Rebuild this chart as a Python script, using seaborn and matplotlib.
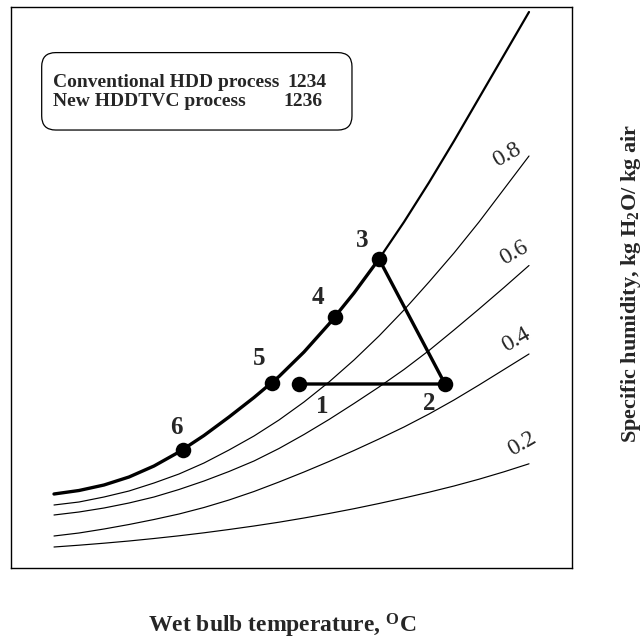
import matplotlib
matplotlib.use("Agg")
import matplotlib.pyplot as plt
import pandas as pd
import seaborn as sns
from matplotlib.patches import FancyBboxPatch

# Wet bulb temperature grid (deg C) shared by all humidity curves
temp = [0, 2.5, 5, 7.5, 10, 12.5, 15, 17.5, 20, 22.5, 25, 27.5,
        30, 32.5, 35, 37.5, 40, 42.5, 45, 47.5]
# Specific humidity (g H2O / kg air) along the saturation line and the
# constant relative-humidity lines
w_sat = [7.4, 7.75, 8.3, 9.1, 10.2, 11.6, 13.25, 15.1, 17.05, 19.15, 21.6, 24.4,
         27.5, 30.9, 34.6, 38.55, 42.7, 47.0, 51.3, 55.6]
w_80 = [6.3, 6.6, 7.1, 7.7, 8.5, 9.4, 10.5, 11.8, 13.2, 14.8, 16.6, 18.6,
        20.8, 23.2, 25.8, 28.6, 31.5, 34.6, 37.9, 41.2]
w_60 = [5.3, 5.6, 6.0, 6.5, 7.1, 7.85, 8.7, 9.65, 10.7, 11.95, 13.35, 14.85,
        16.45, 18.1, 19.85, 21.75, 23.8, 25.9, 28.05, 30.25]
w_40 = [3.2, 3.5, 3.9, 4.35, 4.85, 5.4, 6.05, 6.8, 7.65, 8.6, 9.6, 10.65,
        11.75, 12.9, 14.1, 15.4, 16.8, 18.3, 19.85, 21.4]
w_20 = [2.1, 2.28, 2.48, 2.7, 2.95, 3.22, 3.52, 3.85, 4.2, 4.58, 5.0, 5.45,
        5.93, 6.45, 7.0, 7.58, 8.2, 8.88, 9.62, 10.42]
rh_names = ["0.8", "0.6", "0.4", "0.2"]

# Process states
state_ids = ["1", "2", "3", "4", "5", "6"]
state_temp = [24.5, 39.1, 32.5, 28.1, 21.8, 12.9]
state_w = [18.4, 18.4, 30.9, 25.1, 18.55, 11.85]

legend_rows = [("Conventional HDD process", "1234"),
               ("New HDDTVC process", "1236")]

sns.set_style("white")
serif = ["Liberation Serif", "DejaVu Serif"]
plt.rcParams["font.family"] = serif
plt.rcParams["mathtext.fontset"] = "custom"
plt.rcParams["mathtext.rm"] = "Liberation Serif:bold"
plt.rcParams["mathtext.bf"] = "Liberation Serif:bold"
plt.rcParams["mathtext.it"] = "Liberation Serif:bold"
plt.rcParams["lines.solid_joinstyle"] = "round"

fig = plt.figure(figsize=(6.44, 6.42), dpi=100)
ax = fig.add_axes([11 / 644, 74 / 642, 561 / 644, 561 / 642])

rh_df = pd.concat([
    pd.DataFrame({"T": temp, "w": w, "rh": name})
    for name, w in zip(rh_names, [w_80, w_60, w_40, w_20])
])
sns.lineplot(data=rh_df, x="T", y="w", units="rh", estimator=None,
             sort=False, color="black", lw=0.85, ax=ax)

sat = pd.DataFrame({"T": temp, "w": w_sat})
t3 = state_temp[2]
sns.lineplot(data=sat[sat["T"] >= t3], x="T", y="w", sort=False,
             color="black", lw=1.6, ax=ax)
sns.lineplot(data=sat[sat["T"] <= t3], x="T", y="w", sort=False,
             color="black", lw=2.4, ax=ax)

# Process path 1 -> 2 -> 3
tri = pd.DataFrame({"T": state_temp[:3], "w": state_w[:3]})
sns.lineplot(data=tri, x="T", y="w", sort=False, color="black", lw=2.4, ax=ax)

sns.scatterplot(x=state_temp, y=state_w, color="black", s=125,
                edgecolor="black", linewidth=0, zorder=5, ax=ax)

label_offsets = [(17, -16), (-11, -14), (-12, 13), (-12, 14), (-9, 17), (-5, 16)]
for sid, tx, wy, off in zip(state_ids, state_temp, state_w, label_offsets):
    ax.annotate(sid, (tx, wy), xytext=off, textcoords="offset points",
                ha="center", va="center", fontsize=18, fontweight="bold",
                family=serif)

rh_label_offsets = [(-16, 1), (-11, 9), (-9, 10), (-5, 14)]
for name, w, off in zip(rh_names, [w_80, w_60, w_40, w_20], rh_label_offsets):
    ax.annotate(name, (temp[-1], w[-1]), xytext=off,
                textcoords="offset points", ha="center", va="center",
                rotation=30, fontsize=17, family=serif)

box = FancyBboxPatch((0.0547, 0.7807), 0.6078 - 0.0547, 0.9187 - 0.7807,
                     boxstyle="round,pad=0,rounding_size=0.025",
                     transform=ax.transAxes, facecolor="white",
                     edgecolor="black", lw=0.9, zorder=3)
ax.add_patch(box)
for (txt, code), yb, xc in zip(legend_rows, [(568 - 87) / 561, (568 - 106) / 561],
                               [0.492, 0.485]):
    ax.text(0.0749, yb, txt, transform=ax.transAxes, fontsize=14,
            fontweight="bold", va="baseline", ha="left", zorder=4)
    ax.text(xc, yb, code, transform=ax.transAxes, fontsize=14,
            fontweight="bold", va="baseline", ha="left", zorder=4)

ax.set_xlim(-4.3, 51.8)
ax.set_ylim(0, 56.1)
ax.set_xticks([])
ax.set_yticks([])
ax.set_xlabel("")
ax.set_ylabel("")
for sp in ax.spines.values():
    sp.set_color("black")
    sp.set_linewidth(1.0)

fig.text(282 / 644, 1 - 633 / 642, r"Wet bulb temperature, $^{\mathrm{O}}$C",
         ha="center", va="baseline", fontsize=17, fontweight="bold")
fig.text(631 / 644, 1 - 283 / 642,
         r"Specific humidity, kg H$_{\mathrm{2}}$O/ kg air",
         ha="center", va="center", rotation=90, fontsize=16,
         fontweight="bold")

fig.savefig("out.png", dpi=100)
